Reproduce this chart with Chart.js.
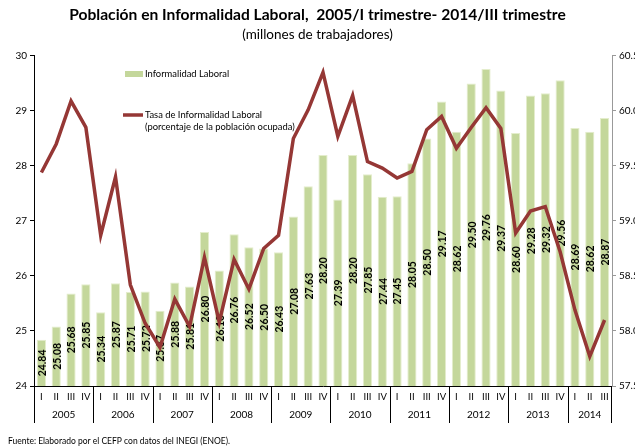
<!DOCTYPE html>
<html>
<head>
<meta charset="utf-8">
<script src="https://cdn.jsdelivr.net/npm/chart.js@4.4.1/dist/chart.umd.min.js"></script>
<style>
  html, body { margin: 0; padding: 0; background: #fff; }
  #wrap { width: 635px; height: 448px; }
</style>
</head>
<body>
<div id="wrap"><canvas id="myChart"></canvas></div>
<script>
const years = ["2005", "2006", "2007", "2008", "2009", "2010", "2011", "2012", "2013", "2014"];
const quarterNames = ["I", "II", "III", "IV"];
// quarters per year (2014 only has three)
const quartersPerYear = [4, 4, 4, 4, 4, 4, 4, 4, 4, 3];

// Población en informalidad laboral (millones)
const informalidad = [
  24.84, 25.08, 25.68, 25.85,
  25.34, 25.87, 25.71, 25.72,
  25.37, 25.88, 25.81, 26.80,
  26.10, 26.76, 26.52, 26.50,
  26.43, 27.08, 27.63, 28.20,
  27.39, 28.20, 27.85, 27.44,
  27.45, 28.05, 28.50, 29.17,
  28.62, 29.50, 29.76, 29.37,
  28.60, 29.28, 29.32, 29.56,
  28.69, 28.62, 28.87
];

// Tasa de informalidad laboral (% de la población ocupada)
const tasa = [
  59.44, 59.70, 60.09, 59.85,
  58.87, 59.40, 58.42, 58.07,
  57.85, 58.29, 58.04, 58.67,
  58.08, 58.65, 58.38, 58.75,
  58.87, 59.75, 60.01, 60.35,
  59.77, 60.14, 59.54, 59.48,
  59.39, 59.45, 59.83, 59.95,
  59.66, 59.85, 60.03, 59.84,
  58.89, 59.09, 59.13, 58.72,
  58.19, 57.77, 58.10
];

const labels = [];
years.forEach((y, i) => {
  for (let q = 0; q < quartersPerYear[i]; q++) labels.push(quarterNames[q]);
});

const barColor = "#C4D79B";
const lineColor = "#953735";
const fontFamily = "Lato, 'Open Sans', sans-serif";
Chart.defaults.font.family = fontFamily;
Chart.defaults.color = "#000";

// value labels, rotated, centred in the visible part of each bar
function drawBarLabels(chart) {
  const ctx = chart.ctx;
  const bottom = chart.chartArea.bottom;
  ctx.save();
  ctx.font = "bold 10.5px " + fontFamily;
  ctx.fillStyle = "#000";
  ctx.textAlign = "center";
  ctx.textBaseline = "middle";
  chart.getDatasetMeta(0).data.forEach((bar, i) => {
    const cy = (bar.y + Math.min(bar.base, bottom)) / 2;
    ctx.save();
    ctx.translate(bar.x + 1, cy);
    ctx.rotate(-Math.PI / 2);
    ctx.fillText(informalidad[i].toFixed(2), 0, 0);
    ctx.restore();
  });
  ctx.restore();
}

const decor = {
  id: "decor",
  beforeDatasetDraw(chart, args) {
    // labels sit on the bars but under the line
    if (args.meta.type === "line") drawBarLabels(chart);
  },
  afterDraw(chart) {
    const ctx = chart.ctx;
    const area = chart.chartArea;
    const xs = chart.scales.x;
    const half = (xs.getPixelForValue(1) - xs.getPixelForValue(0)) / 2;
    ctx.save();
    // year groups below the quarter labels
    ctx.strokeStyle = "#000";
    ctx.lineWidth = 1;
    ctx.font = "10px " + fontFamily;
    ctx.fillStyle = "#000";
    ctx.textAlign = "center";
    ctx.textBaseline = "middle";
    let start = 0;
    years.forEach((y, i) => {
      const end = start + quartersPerYear[i] - 1;
      const x0 = xs.getPixelForValue(start) - half;
      const x1 = xs.getPixelForValue(end) + half;
      ctx.beginPath();
      ctx.moveTo(Math.round(x0) + 0.5, area.bottom);
      ctx.lineTo(Math.round(x0) + 0.5, area.bottom + 37);
      if (i === years.length - 1) {
        ctx.moveTo(Math.round(x1) - 0.5, area.bottom);
        ctx.lineTo(Math.round(x1) - 0.5, area.bottom + 37);
      }
      ctx.stroke();
      ctx.fillText(y, (x0 + x1) / 2, area.bottom + 29);
      start = end + 1;
    });

    // legend inside the plot
    ctx.textAlign = "left";
    ctx.font = "9.4px " + fontFamily;
    ctx.fillStyle = barColor;
    ctx.fillRect(125, 71, 18, 6);
    ctx.fillStyle = "#000";
    ctx.fillText(chart.data.datasets[0].label, 145, 74);
    ctx.strokeStyle = lineColor;
    ctx.lineWidth = 3.5;
    ctx.beginPath();
    ctx.moveTo(123, 115);
    ctx.lineTo(143, 115);
    ctx.stroke();
    ctx.fillText("Tasa de Informalidad Laboral", 145, 115);
    ctx.fillText("(porcentaje de la población ocupada)", 145, 127);

    // source note
    ctx.font = "8.5px " + fontFamily;
    ctx.fillText("Fuente: Elaborado por el CEFP con datos del INEGI (ENOE).", 8, 441);
    ctx.restore();
  }
};

new Chart(document.getElementById("myChart"), {
  data: {
    labels: labels,
    datasets: [
      {
        type: "bar",
        label: "Informalidad Laboral",
        data: informalidad,
        backgroundColor: barColor,
        borderColor: "#E4EDCC",
        borderWidth: 1,
        barPercentage: 0.62,
        categoryPercentage: 1,
        yAxisID: "y",
        order: 1
      },
      {
        type: "line",
        label: "Tasa de Informalidad Laboral",
        data: tasa,
        borderColor: lineColor,
        borderWidth: 3.5,
        pointRadius: 0,
        tension: 0,
        yAxisID: "y1",
        order: 0
      }
    ]
  },
  options: {
    responsive: true,
    maintainAspectRatio: false,
    animation: false,
    devicePixelRatio: 1,
    layout: { padding: 0 },
    plugins: {
      legend: { display: false },
      tooltip: { enabled: false },
      title: {
        display: true,
        text: "Población en Informalidad Laboral,  2005/I trimestre- 2014/III trimestre",
        font: { size: 15.6, weight: "bold" },
        color: "#000",
        padding: { top: 6, bottom: 2 }
      },
      subtitle: {
        display: true,
        text: "(millones de trabajadores)",
        font: { size: 13.5 },
        color: "#000",
        padding: { top: 0, bottom: 13 }
      }
    },
    scales: {
      x: {
        offset: true,
        grid: { display: true, drawOnChartArea: false, drawTicks: false, color: "transparent" },
        border: { display: true, color: "#000", width: 1 },
        ticks: { font: { size: 9.5 }, color: "#000", padding: 5, maxRotation: 0, autoSkip: false },
        afterFit(s) { s.height = 62; }
      },
      y: {
        position: "left",
        min: 24,
        max: 30,
        ticks: { stepSize: 1, font: { size: 10 }, color: "#000", padding: 3 },
        grid: { drawOnChartArea: false, tickLength: 4, color: "#000" },
        border: { color: "#000" },
        afterFit(s) { s.width = 34; }
      },
      y1: {
        position: "right",
        min: 57.5,
        max: 60.5,
        ticks: { stepSize: 0.5, font: { size: 10 }, color: "#000", padding: 3,
          callback: v => Number(v).toFixed(1) },
        grid: { drawOnChartArea: false, tickLength: 4, color: "#999" },
        border: { color: "#999" },
        afterFit(s) { s.width = 23; }
      }
    }
  },
  plugins: [decor]
});
</script>
</body>
</html>
